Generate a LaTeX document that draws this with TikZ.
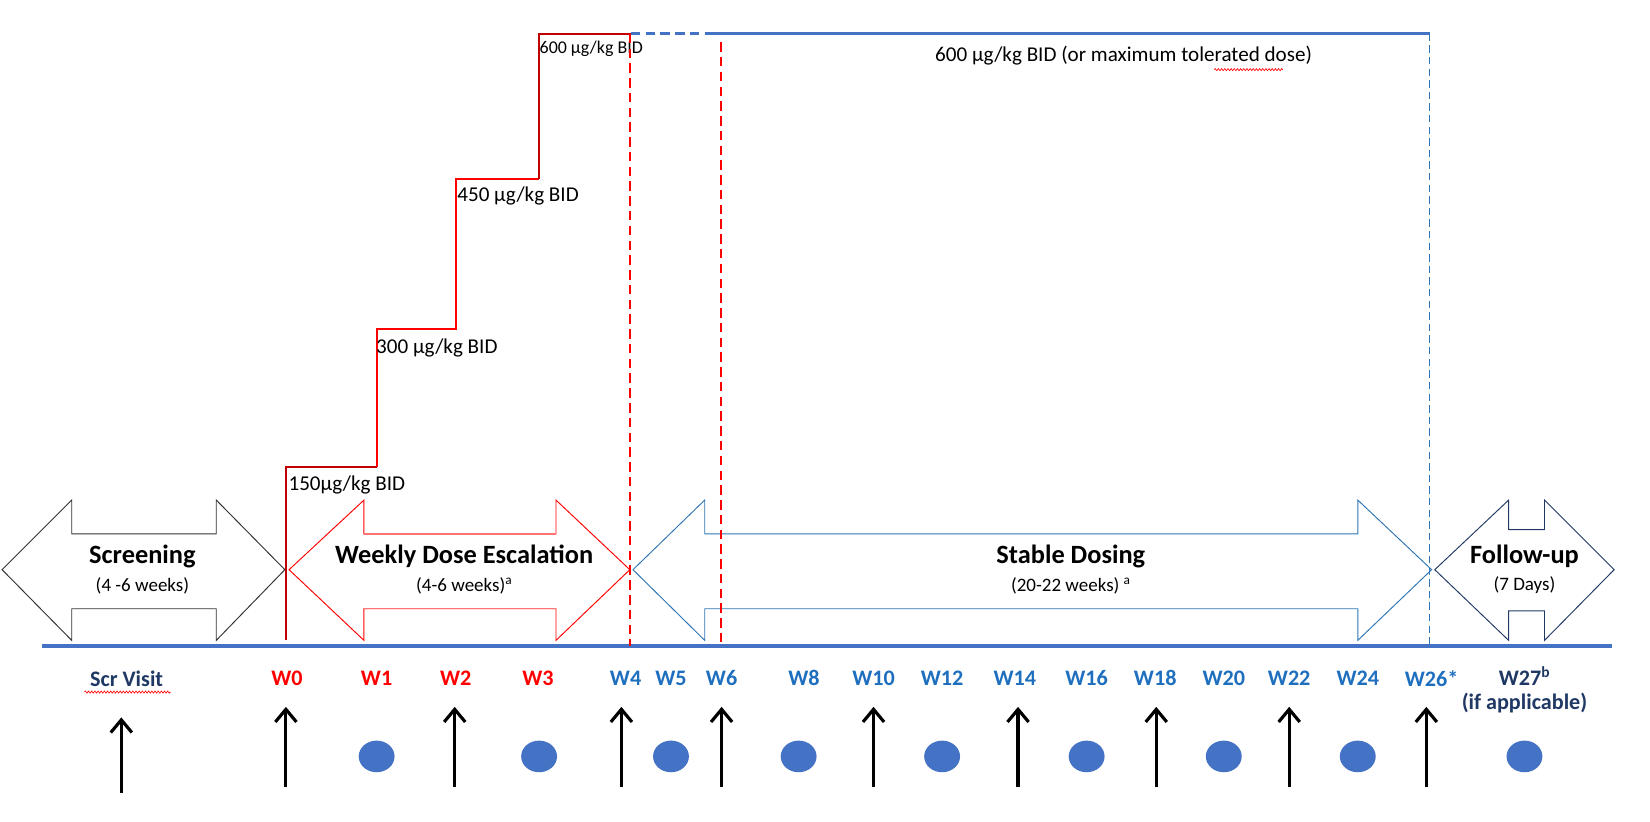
\documentclass[tikz,border=0pt]{standalone}
\usepackage{fontspec}
\setmainfont{Carlito}
\usetikzlibrary{decorations.pathmorphing,arrows.meta,shapes.geometric}
\definecolor{ax}{HTML}{4472C4}
\definecolor{sb}{HTML}{2E75B6}
\definecolor{nv}{HTML}{1F3864}
\definecolor{dr}{HTML}{C00000}
\definecolor{wb}{HTML}{1F6FBF}
\begin{document}
\begin{tikzpicture}[x=1pt,y=-1pt,
 wk/.style={font=\fontsize{21}{23}\selectfont\bfseries,anchor=center},
 ttl/.style={font=\fontsize{25}{27}\selectfont\bfseries},
 sub/.style={font=\fontsize{18}{20}\selectfont},
 dose/.style={font=\fontsize{20}{22}\selectfont,anchor=west},
 up/.style={line width=3pt,-{Straight Barb[length=12pt,width=20pt,line width=3pt]}},
 dot/.style={ellipse,fill=ax,minimum width=34pt,minimum height=30pt,inner sep=0pt}]
\useasboundingbox (0,0) rectangle (1564,779);
% double arrows
\newcommand{\dbl}[7]{\draw[#1,line width=0.9pt] (#2,540) -- (#3,474) -- (#3,#6) -- (#4,#6) -- (#4,474) -- (#5,540) -- (#4,607) -- (#4,#7) -- (#3,#7) -- (#3,607) -- cycle;}
\dbl{black!80}{2}{68}{205}{270}{506}{577}
\dbl{red}{274}{345}{527}{597}{506}{577}
\draw[red!55,line width=1.4pt] (345,506)--(527,506) (345,577)--(527,577);
\dbl{sb}{600}{668}{1287}{1357}{506}{577}
\dbl{nv}{1360}{1430}{1464}{1530}{502}{579}
% axis
\draw[ax,line width=4pt] (40,612) coordinate (a0) -- (1528,612) coordinate (a1);
% titles
\node[ttl] (t1) at (135,527) {Screening};
\node[sub] (s1) at (135,555) {(4 -6 weeks)};
\node[ttl] (t2) at (440,527) {Weekly Dose Escalation};
\node[sub] (s2) at (440,555) {(4-6 weeks)\textsuperscript{a}};
\node[ttl] (t3) at (1015,527) {Stable Dosing};
\node[sub] (s3) at (1015,555) {(20-22 weeks) \textsuperscript{a}};
\node[ttl] (t4) at (1445,527) {Follow-up};
\node[sub] (s4) at (1445,555) {(7 Days)};
% staircase
\draw[dr,line width=2pt] (271,607) -- (271,443) -- (357,443);
\draw[red,line width=2pt] (357,443) -- (357,312) -- (432,312) -- (432,170) -- (511,170);
\draw[dr,line width=2pt] (511,170) -- (511,32) -- (598,32);
\node[dose] (d1) at (270,460) {150µg/kg BID};
\node[dose] (d2) at (353,330) {300 µg/kg BID};
\node[dose] (d3) at (430,186) {450 µg/kg BID};
\node[dose,font=\fontsize{17}{19}\selectfont] (d4) at (508,46) {600 µg/kg BID};
\draw[ax,line width=2.4pt,dash pattern=on 9pt off 5pt] (598,32) -- (668,32);
\draw[ax,line width=2.4pt] (668,32) -- (1355,32);
\draw[sb,line width=1.4pt,dash pattern=on 7pt off 4pt] (1355,32) -- (1355,612);
\draw[red,line width=2pt,dash pattern=on 9pt off 5pt] (597,32) -- (597,612);
\draw[red,line width=2pt,dash pattern=on 9pt off 5pt] (683,40) -- (683,612);
\node[dose,anchor=center] (d5) at (1065,53) {600 µg/kg BID (or maximum tolerated dose)};
\draw[red,line width=0.6pt,decorate,decoration={snake,amplitude=1pt,segment length=3pt}] (1151,66)--(1216,66);
% week labels
\node[wk,text=nv] (scr) at (120,643) {Scr Visit};
\draw[red,line width=0.6pt,decorate,decoration={snake,amplitude=1pt,segment length=3pt}] (80,656)--(162,656);
\foreach \n/\x in {W0/272,W1/357,W2/432,W3/510}{\node[wk,text=red] (l\n) at (\x,643) {\n};}
\foreach \n/\x in {W4/593,W5/636,W6/684,W8/762,W10/828,W12/893,W14/962,W16/1030,W18/1095,W20/1160,W22/1222,W24/1287}{\node[wk,text=wb] (l\n) at (\x,643) {\n};}
\node[wk,text=wb] (lW26) at (1357,643) {W26*};
\node[wk,text=nv] (lW27) at (1445,641) {W27\textsuperscript{b}};
\node[wk,text=nv] (lif) at (1445,666) {(if applicable)};
% arrows
\coordinate (sb0) at (115,752); \coordinate (st0) at (115,680);
\draw[up] (sb0) -- (st0);
\foreach \x [count=\i] in {271,431,589,684,828,965,1096,1222,1352}{
 \coordinate (b\i) at (\x,746); \coordinate (t\i) at (\x,670);
 \draw[up] (b\i) -- (t\i);}
\foreach \x [count=\i] in {357,511,636,757,893,1030,1160,1287,1445}{
 \node[dot] (dot\i) at (\x,717) {};}
\end{tikzpicture}
\end{document}
